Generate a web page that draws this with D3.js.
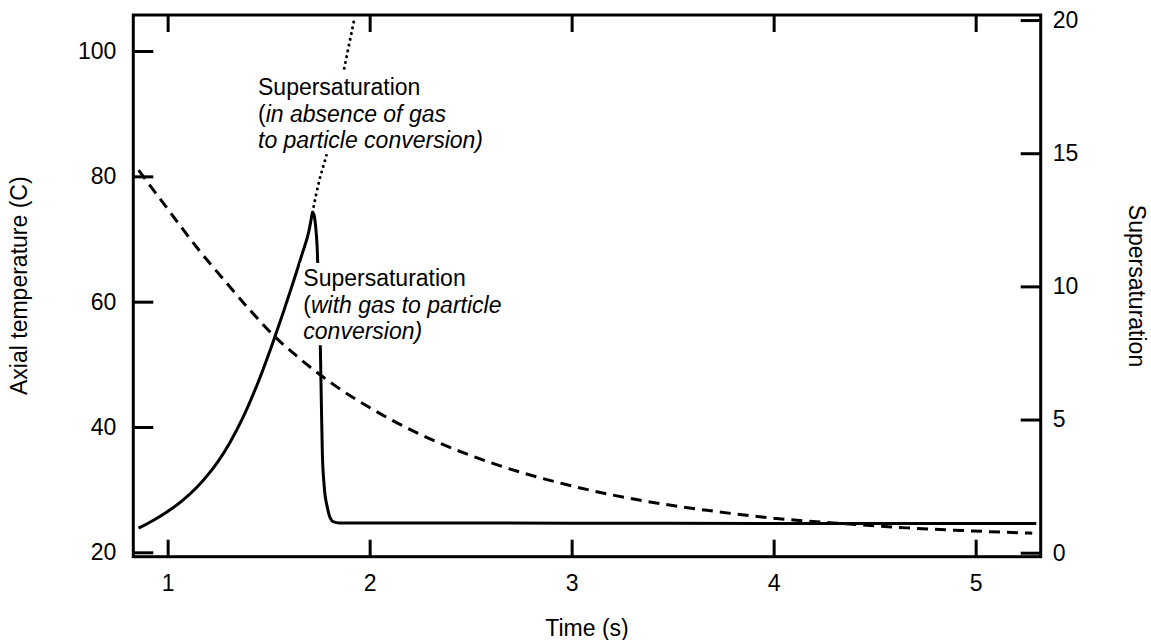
<!DOCTYPE html>
<html>
<head>
<meta charset="utf-8">
<script src="https://cdn.jsdelivr.net/npm/d3@7/dist/d3.min.js"></script>
<style>
  html, body { margin: 0; padding: 0; background: #fff; }
  svg { display: block; }
  text { font-family: "Liberation Sans", Arial, sans-serif; fill: #000; }
</style>
</head>
<body>
<svg id="chart" width="1151" height="640"></svg>
<script>
// Axial temperature (left axis), dashed
const tempTime = [0.856, 0.93, 1.0, 1.146, 1.294, 1.409, 1.525, 1.64, 1.82, 2.0, 2.235, 2.6, 3.0, 3.341, 3.67, 4.0, 4.33, 4.66, 4.99, 5.28];
const tempVals = [81.0, 77.8, 74.8, 68.6, 62.9, 58.6, 54.6, 51.3, 46.8, 43.1, 39.05, 34.3, 30.6, 28.3, 26.7, 25.45, 24.6, 23.9, 23.4, 23.05];

// Supersaturation with gas to particle conversion (right axis), solid
const satTime = [0.856, 0.93, 1.0, 1.07, 1.146, 1.2, 1.25, 1.31, 1.376, 1.45, 1.525, 1.575, 1.624, 1.665, 1.70, 1.71, 1.717, 1.724, 1.732, 1.740, 1.748, 1.756, 1.761, 1.766, 1.775, 1.79, 1.805, 1.822, 1.85, 2.0, 3.0, 4.0, 5.3];
const satVals = [0.92, 1.22, 1.55, 1.94, 2.47, 2.93, 3.43, 4.16, 5.13, 6.44, 7.98, 9.08, 10.21, 11.2, 12.1, 12.5, 12.78, 12.7, 12.3, 11.5, 9.8, 7.7, 5.6, 3.7, 2.5, 1.72, 1.3, 1.16, 1.12, 1.12, 1.11, 1.10, 1.10];

// Supersaturation in absence of gas to particle conversion (right axis), dotted
const noConvTime = [1.717, 1.75, 1.786, 1.83, 1.871, 1.921];
const noConvVals = [12.78, 13.95, 14.93, 16.5, 18.06, 19.93];

// Tick labels
const timeTicks = [1, 2, 3, 4, 5];
const tempTicks = [20, 40, 60, 80, 100];
const satTicks = [0, 5, 10, 15, 20];

const svg = d3.select("#chart");
const plotLeft = 133.3, plotTop = 15, plotRight = 1040.7, plotBottom = 556.7;

const x = d3.scaleLinear().domain([0.830, 5.322]).range([plotLeft, plotRight]);
const yL = d3.scaleLinear().domain([19.3, 105.75]).range([plotBottom, plotTop]);
const yR = d3.scaleLinear().domain([-0.15, 20.19]).range([plotBottom, plotTop]);

const fontSize = 23;

function styleAxis(g) {
  g.select(".domain").remove();
  g.selectAll(".tick line").attr("stroke", "#000").attr("stroke-width", 3);
  g.selectAll(".tick text").style("font-size", fontSize + "px").attr("fill", "#000");
}

// Axes with inward ticks
svg.append("g").attr("transform", `translate(0,${plotBottom})`)
  .call(d3.axisBottom(x).tickValues(timeTicks).tickSize(-17).tickPadding(18).tickFormat(d3.format("d")))
  .call(styleAxis);
svg.append("g").attr("transform", `translate(0,${plotTop})`)
  .call(d3.axisTop(x).tickValues(timeTicks).tickSize(-17).tickFormat(""))
  .call(styleAxis);
svg.append("g").attr("transform", `translate(${plotLeft},0)`)
  .call(d3.axisLeft(yL).tickValues(tempTicks).tickSize(-20).tickPadding(17).tickFormat(d3.format("d")))
  .call(styleAxis);
svg.append("g").attr("transform", `translate(${plotRight},0)`)
  .call(d3.axisRight(yR).tickValues(satTicks).tickSize(-20).tickPadding(12).tickFormat(d3.format("d")))
  .call(styleAxis);

// Curves
const lineL = d3.line().x(d => x(d[0])).y(d => yL(d[1])).curve(d3.curveMonotoneX);
const lineR = d3.line().x(d => x(d[0])).y(d => yR(d[1])).curve(d3.curveMonotoneX);

svg.append("path")
  .attr("d", lineL(d3.zip(tempTime, tempVals)))
  .attr("fill", "none").attr("stroke", "#000").attr("stroke-width", 3)
  .attr("stroke-dasharray", "11,7");

svg.append("path")
  .attr("d", lineR(d3.zip(noConvTime, noConvVals)))
  .attr("fill", "none").attr("stroke", "#000").attr("stroke-width", 3)
  .attr("stroke-linecap", "round").attr("stroke-dasharray", "0.1,5.8");

svg.append("path")
  .attr("d", lineR(d3.zip(satTime, satVals)))
  .attr("fill", "none").attr("stroke", "#000").attr("stroke-width", 3)
  .attr("stroke-linejoin", "round");

// Plot frame
svg.append("rect")
  .attr("x", plotLeft).attr("y", plotTop)
  .attr("width", plotRight - plotLeft).attr("height", plotBottom - plotTop)
  .attr("fill", "none").attr("stroke", "#000").attr("stroke-width", 3);

// Annotations on a white backing
function annotate(px, py, lines) {
  const g = svg.append("g");
  const bg = g.append("rect").attr("fill", "#fff");
  const t = g.append("text").attr("x", px).attr("y", py).style("font-size", fontSize + "px");
  lines.forEach((parts, i) => {
    parts.forEach((p, j) => {
      const s = t.append("tspan").text(p.text);
      if (j === 0) s.attr("x", px).attr("dy", i === 0 ? 0 : 26.6);
      if (p.italic) s.style("font-style", "italic");
    });
  });
  const b = t.node().getBBox();
  bg.attr("x", b.x - 3).attr("y", b.y - 2).attr("width", b.width + 6).attr("height", b.height + 3);
}

annotate(258, 95, [
  [{ text: "Supersaturation" }],
  [{ text: "(" }, { text: "in absence of gas", italic: true }],
  [{ text: "to particle conversion)", italic: true }]
]);
annotate(303.3, 286, [
  [{ text: "Supersaturation" }],
  [{ text: "(" }, { text: "with gas to particle", italic: true }],
  [{ text: "conversion)", italic: true }]
]);

// Axis titles
svg.append("text").attr("transform", "translate(27,285.7) rotate(-90)")
  .attr("text-anchor", "middle").style("font-size", fontSize + "px")
  .text("Axial temperature (C)");
svg.append("text").attr("transform", "translate(1128.5,286) rotate(90)")
  .attr("text-anchor", "middle").style("font-size", fontSize + "px")
  .text("Supersaturation");
svg.append("text").attr("x", (plotLeft + plotRight) / 2).attr("y", 636)
  .attr("text-anchor", "middle").style("font-size", fontSize + "px")
  .text("Time (s)");
</script>
</body>
</html>
